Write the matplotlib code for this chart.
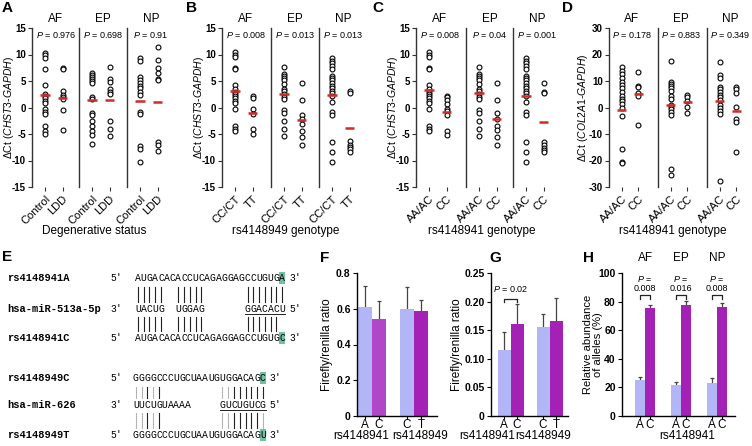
import matplotlib
matplotlib.use("Agg")
import matplotlib.pyplot as plt
import numpy as np

plt.rcParams["font.family"] = ["Liberation Sans", "DejaVu Sans"]
plt.rcParams["mathtext.fontset"] = "custom"
plt.rcParams["mathtext.rm"] = "Liberation Sans"
plt.rcParams["mathtext.it"] = "Liberation Sans:italic"
plt.rcParams["axes.linewidth"] = 1.0

# ---------------- data ----------------
tissues = ["AF", "EP", "NP"]

# A: Control vs LDD, CHST3
a_groups = ["Control", "LDD"]
a_af = [[10.3, 9.9, 9.4, 7.2, 4.3, 2.5, 2.2, 1.7, 1.3, 0.8, -0.3, -0.8, -1.3, -3.4, -4.5, -5.0],
        [7.5, 7.3, 3.2, 2.3, 1.9, 1.6, -0.5, -4.3]]
a_ep = [[6.5, 6.2, 5.8, 5.4, 5.0, 4.6, 2.0, 1.6, -1.0, -1.5, -2.5, -3.5, -4.5, -5.2, -6.8],
        [7.6, 5.4, 4.8, 3.5, 3.0, 2.5, -2.5, -4.1, -5.3]]
a_np = [[9.3, 8.7, 5.8, 5.2, 4.6, 4.1, 3.6, 3.0, 2.4, -0.8, -1.3, -7.3, -7.8, -10.3],
        [11.5, 9.0, 7.5, 6.5, 5.4, 5.2, -6.5, -7.0, -8.2]]
a_med = [[2.3, 1.7], [1.4, 1.5], [1.3, 1.1]]
a_p = ["0.976", "0.698", "0.91"]

# B: rs4148949 genotype, CHST3
b_groups = ["CC/CT", "TT"]
b_af = [[10.4, 9.9, 9.5, 7.4, 7.2, 4.2, 3.5, 3.0, 2.5, 2.1, 1.7, 1.3, 0.8, -0.3, -3.5, -4.0, -4.5],
        [2.1, 1.8, -0.3, -1.3, -4.1, -5.0]]
b_ep = [[7.6, 6.3, 6.0, 5.5, 5.1, 4.4, 3.5, 3.2, 2.5, 1.9, 1.6, -0.5, -1.1, -2.5, -4.1, -5.4],
        [4.6, 1.5, -1.5, -2.2, -3.2, -4.4, -5.6, -7.0]]
b_np = [[9.3, 8.8, 8.4, 7.9, 7.3, 5.9, 5.5, 5.1, 4.6, 4.1, 3.6, 3.2, 2.7, 2.2, 1.1, -0.9, -1.4, -6.6, -8.4, -10.3],
        [3.1, 2.8, -6.3, -7.0, -7.4, -7.9, -8.4]]
b_med = [[3.2, -1.1], [2.6, -2.3], [2.3, -3.9]]
b_p = ["0.008", "0.013", "0.013"]

# C: rs4148941 genotype, CHST3
c_groups = ["AA/AC", "CC"]
c_af = [[10.4, 9.9, 9.5, 7.4, 7.2, 4.2, 3.5, 3.0, 2.5, 2.1, 1.7, 1.3, 0.8, -0.3, -3.5, -4.0, -4.5],
        [2.2, 1.9, 1.5, 0.6, -0.2, -0.6, -1.5, -4.4, -5.2]]
c_ep = [[7.6, 6.3, 6.0, 5.5, 5.1, 4.4, 3.5, 3.2, 2.5, 1.9, 1.6, -0.5, -1.1, -2.5, -4.1, -5.4],
        [4.6, 1.5, -1.1, -2.1, -3.4, -4.3, -5.6, -7.0]]
c_np = [[9.3, 8.8, 8.4, 7.9, 7.3, 5.9, 5.5, 5.1, 4.6, 4.1, 3.6, 3.2, 2.7, 2.2, 1.1, -0.9, -1.4, -6.6, -8.4, -10.3],
        [4.7, 3.0, 2.8, -6.6, -7.1, -7.6, -8.0, -8.4]]
c_med = [[3.3, -0.8], [2.8, -2.2], [2.2, -2.7]]
c_p = ["0.008", "0.04", "0.001"]

# D: rs4148941 genotype, COL2A1
d_groups = ["AA/AC", "CC"]
d_af = [[15.1, 13.8, 12.5, 11.0, 9.7, 8.5, 7.2, 5.9, 4.4, 3.2, 2.4, 1.4, -0.1, -3.2, -15.8, -20.4, -20.9],
        [13.5, 8.1, 7.7, 5.3, 4.3, -6.7]]
d_ep = [[17.7, 9.7, 8.9, 8.1, 7.2, 6.2, 4.4, 3.2, 1.1, 0.3, -0.6, -1.6, -2.7, -23.2, -25.4],
        [4.7, 4.1, 2.4, 0.3, -1.9]]
d_np = [[17.0, 12.3, 11.3, 7.8, 7.0, 5.9, 4.9, 4.1, 2.8, 0.9, -0.1, -1.4, -2.3, -27.8],
        [7.8, 7.0, 5.3, 0.3, -4.2, -5.4, -16.8]]
d_med = [[-1.0, 5.2], [1.0, 2.0], [2.4, -1.3]]
d_p = ["0.178", "0.883", "0.349"]

# F, G: luciferase reporter
fg_alleles = ["A", "C", "C", "T"]
fg_snps = ["rs4148941", "rs4148949"]
f_mean = [0.607, 0.541, 0.600, 0.585]
f_err = [0.122, 0.103, 0.123, 0.063]
g_mean = [0.115, 0.160, 0.156, 0.166]
g_err = [0.031, 0.036, 0.022, 0.041]
g_p = "0.02"

# H: allele abundance
h_alleles = ["A", "C"]
h_a_mean = [25.1, 21.5, 23.4]
h_a_err = [2.3, 2.4, 3.3]
h_c_mean = [75.4, 77.8, 75.9]
h_c_err = [2.4, 2.3, 3.0]
h_p = ["0.008", "0.016", "0.008"]

# E: sequences
e_rows1 = ["rs4148941A", "hsa-miR-513a-5p", "rs4148941C"]
e_seq1_a = "AUGACACACCUCAGAGGAGCCUGUGA"
e_seq1_c = "AUGACACACCUCAGAGGAGCCUGUGC"
e_mir1 = {0: "UACUG", 7: "UGGAG", 19: "GGACACU"}
e_pairs1_top = list(range(0, 5)) + list(range(7, 12)) + list(range(19, 26))
e_pairs1_bot = list(range(0, 5)) + list(range(7, 12)) + list(range(19, 25))
e_rows2 = ["rs4148949C", "hsa-miR-626", "rs4148949T"]
e_seq2_c = "GGGGCCCUGCUAAUGUGGACAGC"
e_seq2_t = "GGGGCCCUGCUAAUGUGGACAGU"
e_mir2 = {0: "UUCUGUAAAA", 15: "GUCUGUCG"}
# "s" = Watson-Crick pair, "w" = G:U wobble
e_pairs2_top = {0: "w", 1: "w", 2: "s", 3: "w", 4: "s",
                15: "w", 16: "w", 17: "s", 18: "s", 19: "s", 20: "s", 21: "s", 22: "s"}
e_pairs2_bot = {0: "w", 1: "w", 2: "s", 3: "w", 4: "s",
                15: "w", 16: "w", 17: "s", 18: "s", 19: "s", 20: "s", 21: "s", 22: "w"}

light = "#b3b6f6"
purple = "#a322b5"
purple_f = "#b146c6"
red = "#d02b2b"
dark = "#333333"

W, H = 752, 446
fig = plt.figure(figsize=(W / 100, H / 100), dpi=100)


def px_axes(left, top, width, height):
    return fig.add_axes([left / W, 1 - (top + height) / H, width / W, height / H])


def label(x, y, s, **kw):
    fig.text(x / W, 1 - y / H, s, **kw)


def scatter_panel(lefts, width, groups, series, medians, pvals, ylim, yticks, ylabel, lab_off=16):
    for i, left in enumerate(lefts):
        ax = px_axes(left, 28, width, 159)
        for j, vals in enumerate(series[i]):
            ax.plot([j] * len(vals), vals, "o", ms=3.5, mfc="white", mec="black",
                    mew=0.8, clip_on=False, zorder=3)
            ax.hlines(medians[i][j], j - 0.28, j + 0.28, color=red, lw=1.8, zorder=4)
        ax.set_xlim(-0.75, 2.0)
        ax.set_ylim(*ylim)
        for s in ["top", "right", "bottom"]:
            ax.spines[s].set_visible(False)
        ax.spines["left"].set_color(dark)
        ax.set_xticks([0, 1])
        ax.set_xticklabels(groups, rotation=45, ha="right", va="top",
                           rotation_mode="anchor", fontsize=8)
        ax.tick_params(axis="x", length=3, color=dark, pad=2)
        if i == 0:
            ax.set_yticks(yticks)
            ax.set_yticklabels([str(t) for t in yticks], fontsize=7, fontweight="bold")
            ax.tick_params(axis="y", length=3, color=dark, pad=1.5)
            ax.set_ylabel(ylabel, fontsize=7.5)
            ax.yaxis.set_label_coords(-lab_off / width, 0.5)
        else:
            ax.tick_params(axis="y", left=False, labelleft=False)
        ax.set_title(tissues[i], fontsize=8.5, pad=4)
        ax.text(0.5, 0.955, r"$P$ = " + pvals[i], transform=ax.transAxes,
                ha="center", va="center", fontsize=6.5)


def chst3(gene):
    return "\u0394Ct (" + r"$\mathit{" + gene + "}$" + "-" + r"$\mathit{GAPDH}$" + ")"


ticks15 = [-15, -10, -5, 0, 5, 10, 15]
scatter_panel([32, 79, 127], 48, a_groups, [a_af, a_ep, a_np], a_med, a_p,
              (-15, 15), ticks15, chst3("CHST3"))
scatter_panel([222, 271, 319], 48, b_groups, [b_af, b_ep, b_np], b_med, b_p,
              (-15, 15), ticks15, chst3("CHST3"))
scatter_panel([416, 466, 513], 48, c_groups, [c_af, c_ep, c_np], c_med, c_p,
              (-15, 15), ticks15, chst3("CHST3"))
scatter_panel([609, 658, 707], 46, d_groups, [d_af, d_ep, d_np], d_med, d_p,
              (-30, 30), [-30, -20, -10, 0, 10, 20, 30], chst3("COL2A1"), lab_off=19)

label(94, 231, "Degenerative status", ha="center", va="center", fontsize=8.5)
label(286, 231, "rs4148949 genotype", ha="center", va="center", fontsize=8.5)
label(482, 231, "rs4148941 genotype", ha="center", va="center", fontsize=8.5)
label(673, 231, "rs4148941 genotype", ha="center", va="center", fontsize=8.5)

for lt, x, y in [("A", 2, 8), ("B", 186, 8), ("C", 372, 8), ("D", 562, 8),
                 ("E", 2, 257), ("F", 320, 258), ("G", 489, 258), ("H", 583, 258)]:
    label(x, y, lt, fontsize=11, fontweight="bold", va="center", ha="left")

# ---------------- E: sequence alignments ----------------
axe = px_axes(0, 240, 300, 206)
axe.set_xlim(0, 300)
axe.set_ylim(446, 240)
axe.axis("off")
cw = 5.77
mono = "Liberation Mono"


def seq_row(x0, y, seq, hl=False):
    for k, ch in enumerate(seq):
        axe.text(x0 + (k + 0.5) * cw, y, ch, family=mono, fontsize=7,
                 ha="center", va="center", zorder=3)
    if hl:
        k = len(seq) - 1
        axe.add_patch(plt.Rectangle((x0 + k * cw - 0.3, y - 6), cw + 0.6, 12,
                                    color="#72c2a2", zorder=2, lw=0))


def pair_bars(x0, y0, y1, pairs):
    for k, kind in pairs.items():
        xx = x0 + (k + 0.5) * cw
        if kind == "s":
            axe.plot([xx, xx], [y0, y1], color="#222222", lw=0.8)
        else:
            axe.plot([xx, xx], [y0, y1], color="#777777", lw=0.8, ls=(0, (1, 0.8)))


def block(rows, ys, x0, seq_top, seq_bot, mir, pairs_top, pairs_bot):
    for r, y in zip(rows, ys):
        axe.text(7, y, r, family=mono, fontsize=7.5, fontweight="bold", va="center")
    seq_row(x0, ys[0], seq_top, hl=True)
    seq_row(x0, ys[2], seq_bot, hl=True)
    for start, part in mir.items():
        seq_row(x0 + start * cw, ys[1], part)
    last = max(mir)
    axe.plot([x0 + last * cw, x0 + (last + len(mir[last])) * cw], [ys[1] + 5.5] * 2,
             color="#222222", lw=0.7)
    for y, p5 in [(ys[0], "5\u2032"), (ys[1], "3\u2032"), (ys[2], "5\u2032")]:
        axe.text(110, y, p5, family=mono, fontsize=7, va="center")
    n = len(seq_top)
    for y, p3 in [(ys[0], "3\u2032"), (ys[1], "5\u2032"), (ys[2], "3\u2032")]:
        axe.text(x0 + n * cw + 4, y, p3, family=mono, fontsize=7, va="center")
    pair_bars(x0, ys[0] + 9, ys[1] - 7, pairs_top)
    pair_bars(x0, ys[1] + 8, ys[2] - 7, pairs_bot)


block(e_rows1, [278, 309, 338], 135, e_seq1_a, e_seq1_c, e_mir1,
      {k: "s" for k in e_pairs1_top}, {k: "s" for k in e_pairs1_bot})
block(e_rows2, [378, 405, 435], 133, e_seq2_c, e_seq2_t, e_mir2,
      e_pairs2_top, e_pairs2_bot)


# ---------------- F, G: luciferase bars ----------------
def bar_axes(ax, yticks, yticklabels, ylabel, lab_x, lab_size=8.5):
    for s in ["top", "right"]:
        ax.spines[s].set_visible(False)
    ax.set_yticks(yticks)
    ax.set_yticklabels(yticklabels, fontsize=7.5, fontweight="bold")
    ax.tick_params(axis="y", length=3, pad=1.5)
    ax.tick_params(axis="x", length=2, pad=0.5, labelsize=8.5)
    ax.set_ylabel(ylabel, fontsize=lab_size, linespacing=1.1)
    ax.yaxis.set_label_coords(lab_x, 0.5)


def err_up(ax, xs, means, errs, half):
    xs = np.asarray(xs, dtype=float)
    tops = np.array(means) + np.array(errs)
    ax.vlines(xs, means, tops, color="#444444", lw=0.9, zorder=1)
    ax.hlines(tops, xs - half, xs + half, color="#444444", lw=0.9, zorder=1)


fg_pos = np.array([0, 1, 3, 4])

axf = px_axes(357, 273, 80, 143)
axf.bar(fg_pos, f_mean, width=1.0, color=[light, purple_f, light, purple], zorder=2)
err_up(axf, fg_pos, f_mean, f_err, 0.15)
axf.set_xlim(-0.57, 5.14)
axf.set_ylim(0, 0.8)
axf.set_xticks(fg_pos)
axf.set_xticklabels(fg_alleles)
bar_axes(axf, [0, 0.2, 0.4, 0.6, 0.8], ["0", "0.2", "0.4", "0.6", "0.8"],
         "Firefly/renilla ratio", -0.3)

axg = px_axes(491, 273, 77, 143)
axg.bar(fg_pos, g_mean, width=1.0, color=[light, purple, light, purple], zorder=2)
err_up(axg, fg_pos, g_mean, g_err, 0.15)
axg.set_xlim(-1.0, 4.92)
axg.set_ylim(0, 0.25)
axg.set_xticks(fg_pos)
axg.set_xticklabels(fg_alleles)
bar_axes(axg, [0, 0.05, 0.10, 0.15, 0.20, 0.25],
         ["0", "0.05", "0.10", "0.15", "0.20", "0.25"], "Firefly/renilla ratio", -0.37)
axg.plot([0, 0, 1, 1], [0.199, 0.205, 0.205, 0.199], color="#222222", lw=0.9, zorder=3)
axg.text(0.5, 0.222, r"$P$ = " + g_p, ha="center", va="center", fontsize=6.5)

for x, s in [(361, fg_snps[0]), (420, fg_snps[1]), (487, fg_snps[0]), (543, fg_snps[1])]:
    label(x, 436, s, ha="center", va="center", fontsize=8.5)

# ---------------- H: allele abundance ----------------
axh = px_axes(622, 273, 113, 143)
hx = np.arange(3)
off = 0.14
axh.bar(hx - off, h_a_mean, width=0.28, color=light, zorder=2)
axh.bar(hx + off, h_c_mean, width=0.28, color=purple, zorder=2)
err_up(axh, hx - off, h_a_mean, h_a_err, 0.05)
err_up(axh, hx + off, h_c_mean, h_c_err, 0.05)
axh.set_xlim(-0.64, 2.5)
axh.set_ylim(0, 100)
axh.set_xticks(np.concatenate([hx - off, hx + off]))
axh.set_xticklabels(h_alleles[:1] * 3 + h_alleles[1:] * 3)
bar_axes(axh, [0, 20, 40, 60, 80, 100], ["0", "20", "40", "60", "80", "100"],
         "Relative abundance\nof alleles (%)", -0.165, lab_size=8)
for k in range(3):
    axh.plot([k - off, k - off, k + off, k + off], [81.5, 84.8, 84.8, 81.5],
             color="#222222", lw=0.9, zorder=3, clip_on=False)
    axh.text(k, 96, r"$P$ =", ha="center", va="center", fontsize=6.5)
    axh.text(k, 89.5, h_p[k], ha="center", va="center", fontsize=6.5)
    axh.text(k, 110.5, tissues[k], ha="center", va="center", fontsize=8.5)
label(687, 436, "rs4148941", ha="center", va="center", fontsize=8.5)

fig.savefig("out.png", dpi=100)
